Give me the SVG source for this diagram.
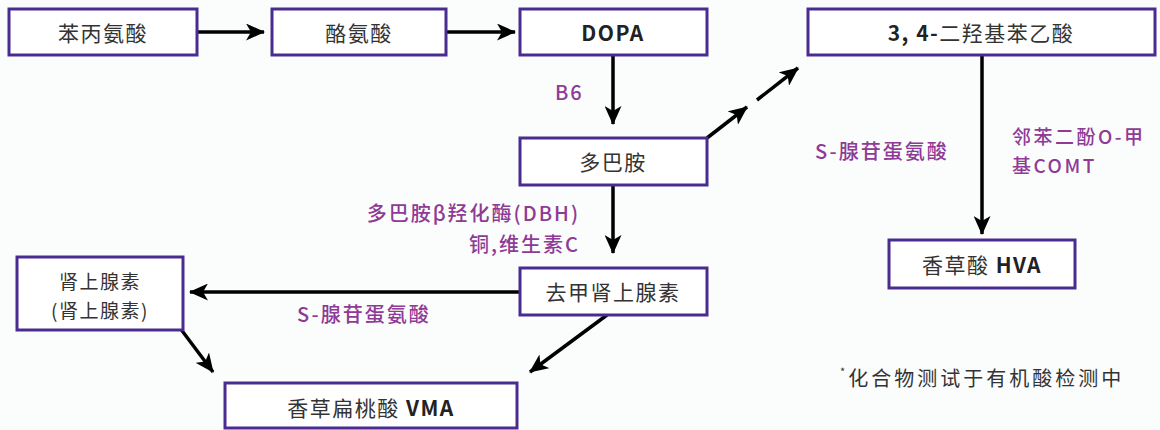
<svg xmlns="http://www.w3.org/2000/svg" width="1160" height="430" viewBox="0 0 1160 430">
<style>
.bg{fill:#fbfcfc}
.box{fill:#ffffff;stroke:#4a2c91;stroke-width:3}
.t{font-family:"Noto Sans CJK SC","Noto Sans",sans-serif;font-size:21px;fill:#333;text-anchor:middle;dominant-baseline:central;letter-spacing:1.5px}
.s{font-size:19px}
.b{font-weight:700;fill:#222}
.lbl{font-family:"Noto Sans CJK SC","Noto Sans",sans-serif;font-size:20px;fill:#8e3a96;font-weight:500;letter-spacing:2px;dominant-baseline:central}
.ls{font-size:19px;letter-spacing:2.5px}
.c{stroke:#000;stroke-width:3.5;fill:none;marker-end:url(#ah)}
.note{font-family:"Noto Sans CJK SC","Noto Sans",sans-serif;font-size:20px;fill:#333;letter-spacing:3px;dominant-baseline:central}
</style>
<defs>
<marker id="ah" markerUnits="userSpaceOnUse" markerWidth="19" markerHeight="17" viewBox="0 0 19 17" refX="18" refY="8.5" orient="auto">
<path d="M0,0 L19,8.5 L0,17 L5,8.5 z" fill="#000"/>
</marker>
</defs>
<rect class="bg" x="0" y="0" width="1160" height="430"/>
<g id="connectors">
<line class="c" x1="197" y1="32" x2="264" y2="32"/>
<line class="c" x1="446" y1="32" x2="515" y2="32"/>
<line class="c" x1="613" y1="55" x2="613" y2="124"/>
<line class="c" x1="613" y1="185" x2="613" y2="253"/>
<line class="c" x1="707" y1="138" x2="747" y2="107"/>
<line class="c" x1="757" y1="100" x2="798" y2="68"/>
<line class="c" x1="982" y1="55" x2="982" y2="234"/>
<line class="c" x1="520" y1="292" x2="190" y2="292"/>
<line class="c" x1="180" y1="328" x2="213" y2="372"/>
<line class="c" x1="607" y1="315" x2="530" y2="372"/>
</g>
<g id="n1"><rect class="box" x="9" y="9" width="188" height="46"/><text class="t" x="103" y="32">苯丙氨酸</text></g>
<g id="n2"><rect class="box" x="272" y="9" width="174" height="46"/><text class="t" x="359" y="32">酪氨酸</text></g>
<g id="n3"><rect class="box" x="520" y="9" width="187" height="46"/><text class="t b" x="613" y="32">DOPA</text></g>
<g id="n4"><rect class="box" x="808" y="9" width="347" height="46"/><text class="t" x="981" y="32"><tspan class="b">3, 4-</tspan>二羟基苯乙酸</text></g>
<g id="n5"><rect class="box" x="520" y="138" width="187" height="47"/><text class="t" x="613" y="161">多巴胺</text></g>
<g id="n6"><rect class="box" x="520" y="268" width="187" height="47"/><text class="t" x="613" y="291">去甲肾上腺素</text></g>
<g id="n7"><rect class="box" x="17" y="257" width="166" height="73"/><text class="t s" x="100" y="280">肾上腺素</text><text class="t s" x="100" y="309">(肾上腺素)</text></g>
<g id="n8"><rect class="box" x="225" y="383" width="292" height="45"/><text class="t" x="371" y="407">香草扁桃酸 <tspan class="b">VMA</tspan></text></g>
<g id="n9"><rect class="box" x="889" y="240" width="186" height="48"/><text class="t" x="982" y="264">香草酸 <tspan class="b">HVA</tspan></text></g>
<g id="labels">
<text class="lbl" x="555" y="91">B6</text>
<text class="lbl" x="580" y="212" text-anchor="end">多巴胺β羟化酶(DBH)</text>
<text class="lbl" x="580" y="243" text-anchor="end">铜,维生素C</text>
<text class="lbl" x="815" y="150">S-腺苷蛋氨酸</text>
<text class="lbl ls" x="1012" y="135">邻苯二酚O-甲</text>
<text class="lbl ls" x="1012" y="164">基COMT</text>
<text class="lbl" x="297" y="313">S-腺苷蛋氨酸</text>
<text class="note" x="840" y="377"><tspan font-size="11" dy="-6">*</tspan><tspan dy="6">化合物测试于有机酸检测中</tspan></text>
</g>
</svg>
